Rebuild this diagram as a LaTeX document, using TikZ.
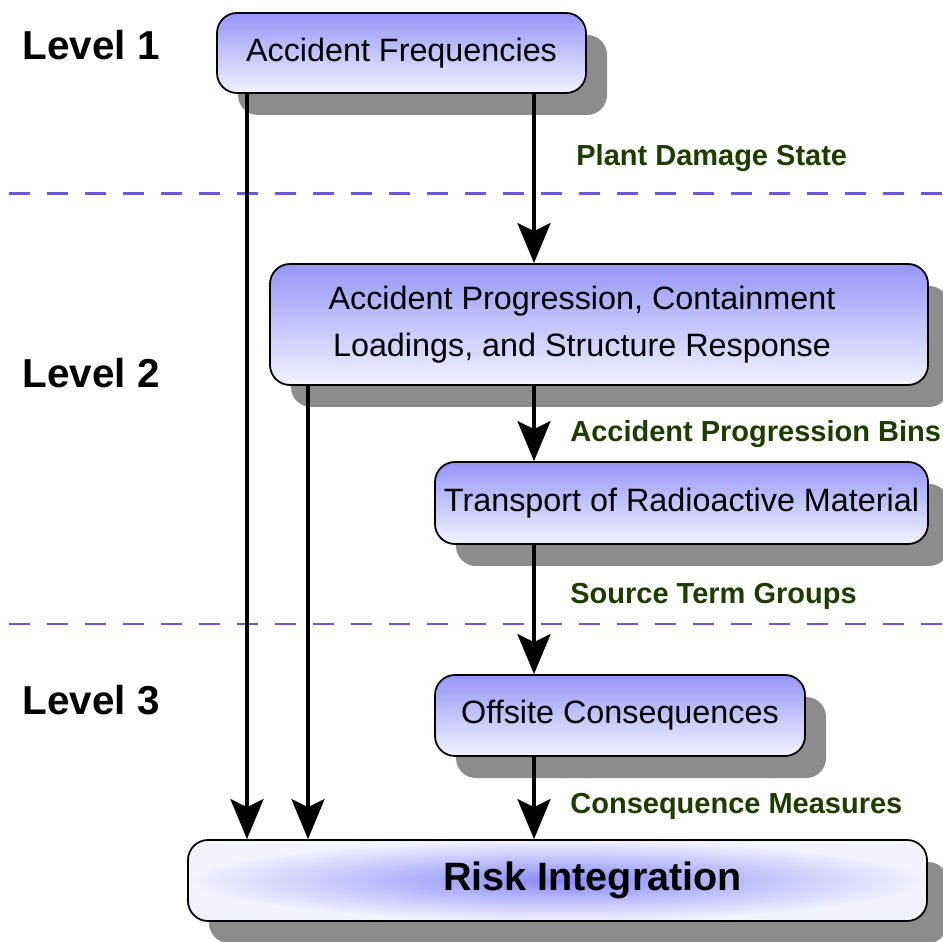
\documentclass[tikz,border=0pt]{standalone}
\usepackage{fontspec}
\setmainfont{Liberation Sans}
\usetikzlibrary{arrows.meta}
\usetikzlibrary{shadows}
\usepackage{xcolor}
\definecolor{boxtop}{RGB}{150,150,248}
\definecolor{boxbottom}{RGB}{242,242,255}
\definecolor{glow}{RGB}{138,138,248}
\definecolor{levelline}{RGB}{106,90,205}
\definecolor{flowlabel}{RGB}{30,60,0}

\begin{document}
\begin{tikzpicture}
      \tikzstyle{box}=[draw,line width=1pt,rounded corners=0.4cm,top color=boxtop,bottom color=boxbottom,
        drop shadow={shadow xshift=0.42cm,shadow yshift=-0.44cm,opacity=1,fill=gray!90},
        font=\fontsize{18.4}{27}\selectfont,align=center,inner sep=0pt]
      \tikzstyle{flow}=[line width=2.3pt,-{Stealth[length=0.8cm,width=0.66cm,inset=0.16cm]}]
      \tikzstyle{level}=[anchor=west,font=\fontsize{23}{27}\selectfont\bfseries]
      \tikzstyle{tag}=[anchor=west,text=flowlabel,font=\fontsize{16.5}{20}\selectfont\bfseries]
      \useasboundingbox (0,0) rectangle (18.86,18.82);

      % level separators
      \draw[levelline,line width=1.7pt,dash pattern=on 0.42cm off 0.34cm] (0.18,14.94) -- (18.86,14.94);
      \draw[levelline,line width=1.7pt,dash pattern=on 0.42cm off 0.34cm] (0.18,6.34) -- (18.86,6.34);

      \node[level] (l1) at (0.33,17.92) {Level 1};
      \node[level] (l2) at (0.33,11.36) {Level 2};
      \node[level] (l3) at (0.33,4.82)  {Level 3};

      \node[box,minimum width=7.38cm,minimum height=1.6cm] (freq) at (8.03,17.76) {Accident Frequencies};
      \node[box,minimum width=13.16cm,minimum height=2.42cm] (prog) at (11.98,12.33)
        {Accident Progression, Containment\hspace*{0.68cm}\\Loadings, and Structure Response\hspace*{0.68cm}};
      \node[box,minimum width=9.86cm,minimum height=1.64cm] (trans) at (13.63,8.76) {Transport of Radioactive Material};
      \node[box,minimum width=7.4cm,minimum height=1.62cm] (off) at (12.4,4.51) {Offsite Consequences};
      \node[box,minimum width=14.78cm,minimum height=1.62cm,inner color=glow,outer color=boxbottom,
        font=\fontsize{22.5}{27}\selectfont\bfseries] (risk) at (11.15,1.21) {\hspace*{1.4cm}Risk Integration};

    	\draw[flow] (freq.south -| 4.94,0) -- (risk.north -| 4.94,0);
    	\draw[flow] (prog.south -| 6.16,0) -- (risk.north -| 6.16,0);
    	\draw[flow] (freq.south -| 10.68,0) -- (prog.north -| 10.68,0) node[tag,pos=0.38,xshift=0.69cm] {Plant Damage State};
    	\draw[flow] (prog.south -| 10.68,0) -- (trans.north -| 10.68,0) node[tag,pos=0.64,xshift=0.57cm] {Accident Progression Bins};
    	\draw[flow] (trans.south -| 10.68,0) -- (off.north -| 10.68,0) node[tag,pos=0.4,xshift=0.57cm] {Source Term Groups};
    	\draw[flow] (off.south -| 10.68,0) -- (risk.north -| 10.68,0) node[tag,pos=0.6,xshift=0.57cm] {Consequence Measures};
\end{tikzpicture}
\end{document}
